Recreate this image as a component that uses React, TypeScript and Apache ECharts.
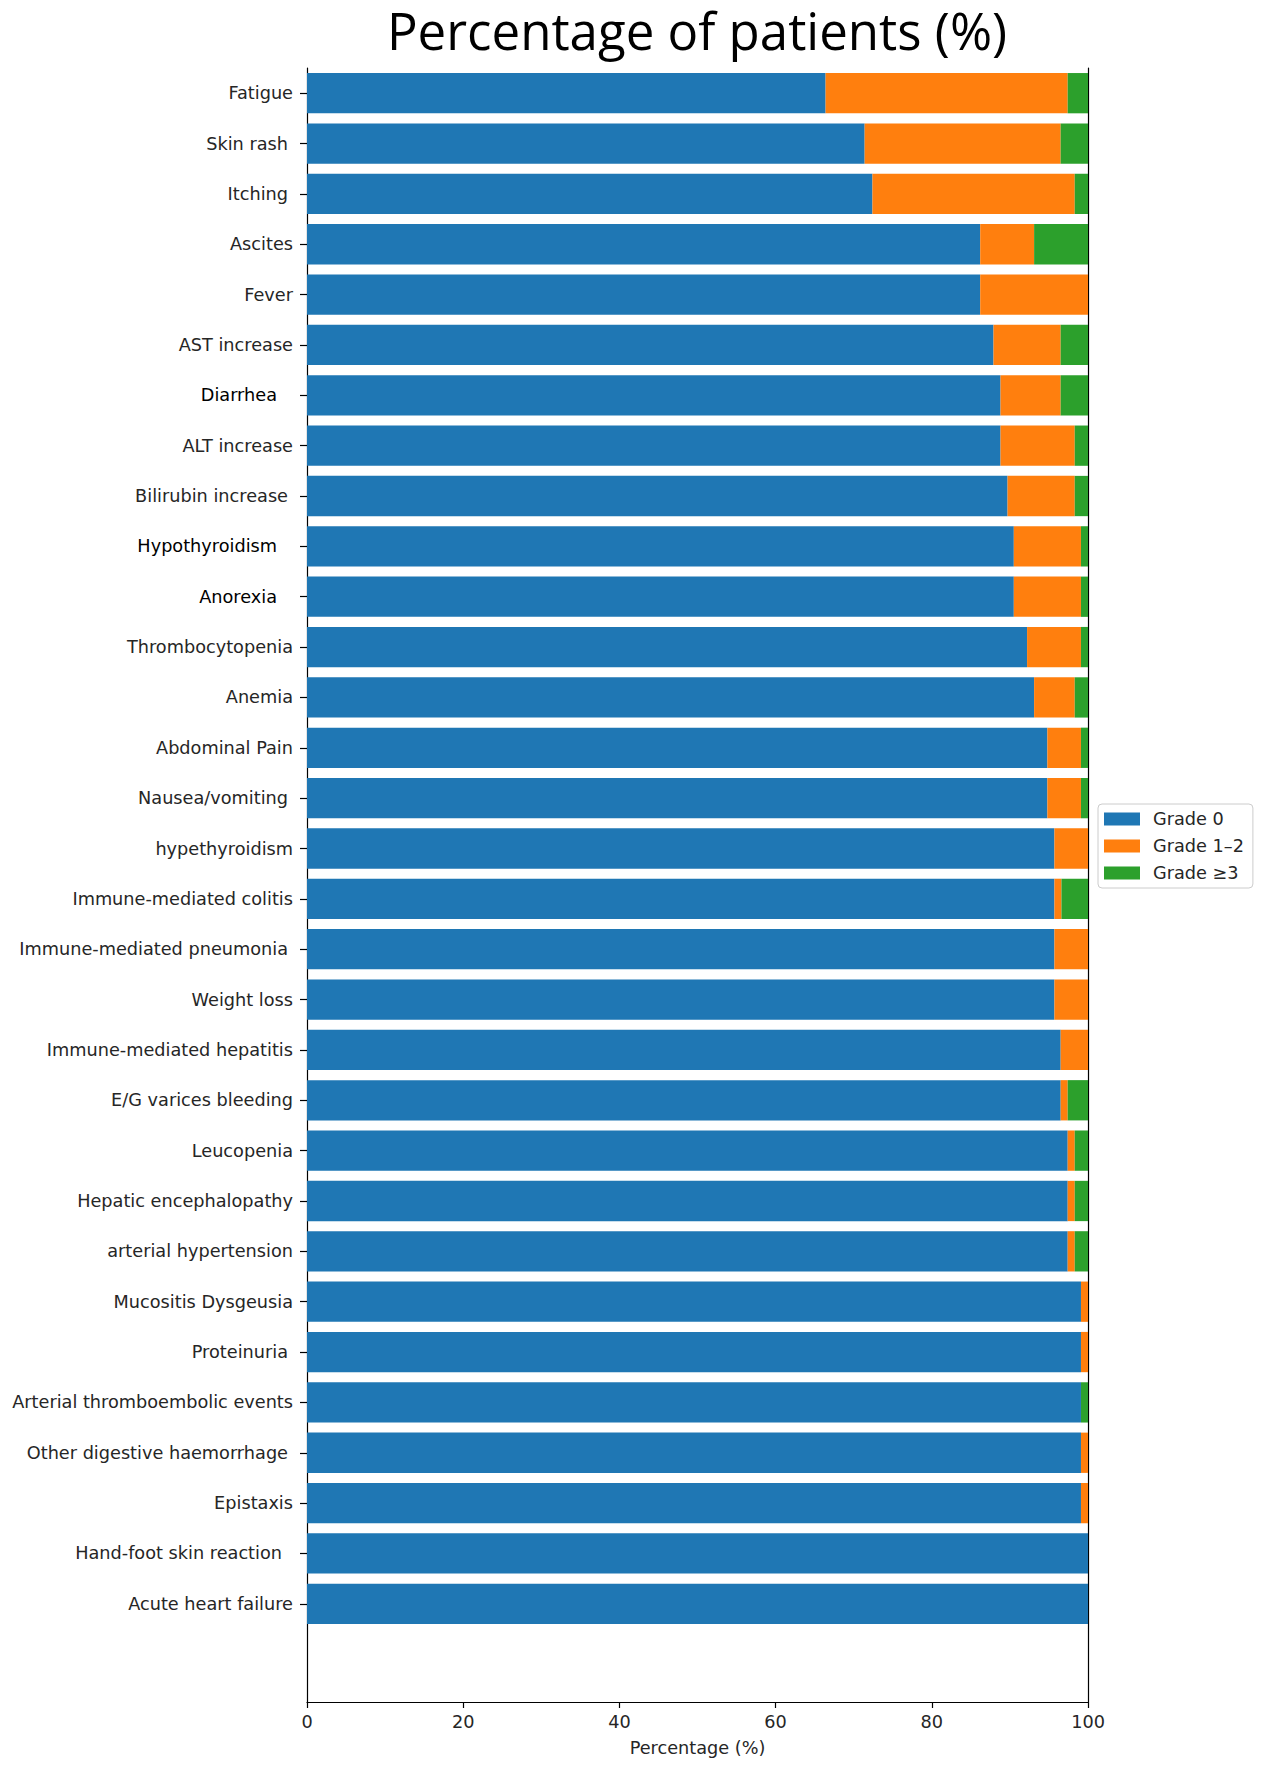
import React, { useEffect, useRef } from "react";
import * as echarts from "echarts";

const titleText = "Percentage of patients (%)";
const axisName = "Percentage (%)";

const categories = [
  "Fatigue",
  "Skin rash",
  "Itching",
  "Ascites",
  "Fever",
  "AST increase",
  "Diarrhea",
  "ALT increase",
  "Bilirubin increase",
  "Hypothyroidism",
  "Anorexia",
  "Thrombocytopenia",
  "Anemia",
  "Abdominal Pain",
  "Nausea/vomiting",
  "hypethyroidism",
  "Immune-mediated colitis",
  "Immune-mediated pneumonia",
  "Weight loss",
  "Immune-mediated hepatitis",
  "E/G varices bleeding",
  "Leucopenia",
  "Hepatic encephalopathy",
  "arterial hypertension",
  "Mucositis Dysgeusia",
  "Proteinuria",
  "Arterial thromboembolic events",
  "Other digestive haemorrhage",
  "Epistaxis",
  "Hand-foot skin reaction",
  "Acute heart failure",
];

const grade0 = [
  66.4, 71.4, 72.4, 86.2, 86.2, 87.9, 88.8, 88.8, 89.7, 90.5, 90.5, 92.2, 93.1,
  94.8, 94.8, 95.7, 95.7, 95.7, 95.7, 96.5, 96.5, 97.4, 97.4, 97.4, 99.1, 99.1,
  99.1, 99.1, 99.1, 100, 100,
];

const grade12 = [
  31.0, 25.1, 25.9, 6.9, 13.8, 8.6, 7.7, 9.5, 8.6, 8.6, 8.6, 6.9, 5.2, 4.3, 4.3,
  4.3, 0.9, 4.3, 4.3, 3.5, 0.9, 0.9, 0.9, 0.9, 0.9, 0.9, 0, 0.9, 0.9, 0, 0,
];

const grade3 = [
  2.6, 3.5, 1.7, 6.9, 0, 3.5, 3.5, 1.7, 1.7, 0.9, 0.9, 0.9, 1.7, 0.9, 0.9, 0,
  3.4, 0, 0, 0, 2.6, 1.7, 1.7, 1.7, 0, 0, 0.9, 0, 0, 0, 0,
];

const seriesNames = ["Grade 0", "Grade 1–2", "Grade ≥3"];
const seriesColors = ["#1f77b4", "#ff7f0e", "#2ca02c"];

const xMin = 0;
const xMax = 100;
const xInterval = 20;

// labels in the source that sit a little left of the others (trailing spaces)
const labelTrailPad: Record<string, number> = {
  "Skin rash": 5,
  Itching: 5,
  Diarrhea: 16,
  "Bilirubin increase": 5,
  Hypothyroidism: 16,
  Anorexia: 16,
  "Nausea/vomiting": 5,
  "Immune-mediated pneumonia": 5,
  Proteinuria: 5,
  "Other digestive haemorrhage": 5,
  "Hand-foot skin reaction": 11,
};
const blackLabels = ["Diarrhea", "Hypothyroidism", "Anorexia"];

export default function App() {
  const ref = useRef<HTMLDivElement>(null);

  useEffect(() => {
    document.body.style.margin = "0";
    if (!ref.current) return;
    const chart = echarts.init(ref.current, undefined, { renderer: "svg" });

    const font = "DejaVu Sans";
    const fs = 17.7;
    const spine = { show: true, onZero: false, lineStyle: { color: "#000", width: 1.2 } };
    const spineAxis = (gridIndex: number, position: string) => ({
      gridIndex,
      type: "value",
      position,
      min: 0,
      max: 1,
      axisLine: spine,
      axisTick: { show: false },
      axisLabel: { show: false },
      splitLine: { show: false },
    });

    const seriesData = [grade0, grade12, grade3];

    const yData = categories.map((name) => {
      const pad = labelTrailPad[name] || 0;
      const textStyle: any = { padding: [0, pad, 0, 0] };
      if (blackLabels.includes(name)) textStyle.color = "#000";
      return { value: name, textStyle };
    });

    chart.setOption({
      animation: false,
      backgroundColor: "#fff",
      graphic: [
        {
          type: "text",
          x: 697,
          y: 30,
          style: {
            text: titleText,
            fontSize: 51,
            lineHeight: 52,
            fontFamily: "Open Sans",
            fill: "#000",
            align: "center",
            verticalAlign: "middle",
          },
        },
      ],
      legend: {
        orient: "vertical",
        left: 1098,
        top: 804,
        data: seriesNames,
        icon: "rect",
        itemWidth: 36,
        itemHeight: 13,
        itemGap: 9,
        padding: [6, 9, 6, 6],
        borderColor: "#cccccc",
        borderWidth: 1,
        borderRadius: 4,
        textStyle: { fontSize: fs, color: "#262626", fontFamily: font, padding: [0, 0, 0, 8] },
      },
      grid: [
        { left: 307, top: 68, width: 781, height: 1561 },
        { left: 307, top: 1629, width: 781, height: 73 },
      ],
      xAxis: [
        { gridIndex: 0, type: "value", min: xMin, max: xMax, show: false },
        {
          gridIndex: 1,
          type: "value",
          min: xMin,
          max: xMax,
          interval: xInterval,
          axisLine: spine,
          axisTick: { show: true, length: 6, lineStyle: { color: "#000", width: 1.2 } },
          axisLabel: { fontSize: fs, color: "#262626", margin: 11, fontFamily: font },
          splitLine: { show: false },
          name: axisName,
          nameLocation: "middle",
          nameGap: 37,
          nameTextStyle: { fontSize: fs, color: "#262626", fontFamily: font },
        },
      ],
      yAxis: [
        {
          gridIndex: 0,
          type: "category",
          inverse: true,
          data: yData,
          axisLine: spine,
          axisTick: {
            show: true,
            alignWithLabel: true,
            length: 7,
            lineStyle: { color: "#000", width: 1.2 },
          },
          axisLabel: { fontSize: fs, color: "#262626", margin: 14, fontFamily: font, interval: 0 },
          splitLine: { show: false },
        },
        spineAxis(0, "right"),
        spineAxis(1, "left"),
        spineAxis(1, "right"),
      ],
      series: seriesNames.map((name, i) => ({
        name,
        type: "bar",
        stack: "total",
        xAxisIndex: 0,
        yAxisIndex: 0,
        barWidth: "80%",
        data: seriesData[i],
        itemStyle: { color: seriesColors[i] },
      })),
    });

    return () => chart.dispose();
  }, []);

  return <div ref={ref} style={{ width: 1267, height: 1771 }} />;
}
